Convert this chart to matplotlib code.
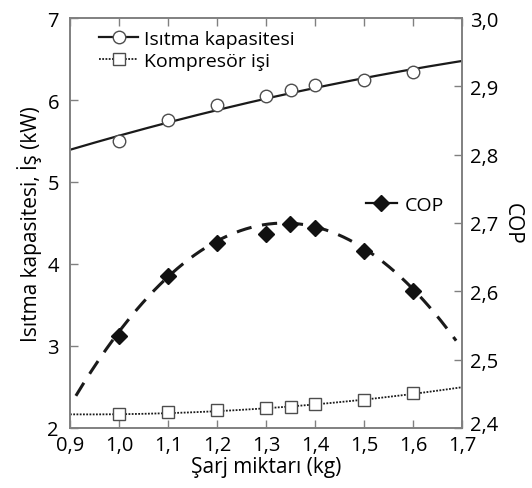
import matplotlib
matplotlib.use("Agg")
import matplotlib.pyplot as plt
import matplotlib.transforms as mtransforms
import numpy as np
from matplotlib.ticker import FuncFormatter
from matplotlib.lines import Line2D

plt.rcParams['font.family'] = ['Open Sans', 'DejaVu Sans']

# Data
charge = [1.0, 1.1, 1.2, 1.3, 1.35, 1.4, 1.5, 1.6]
heating = [5.50, 5.76, 5.94, 6.045, 6.12, 6.18, 6.24, 6.34]
compressor = [2.17, 2.20, 2.22, 2.245, 2.256, 2.29, 2.345, 2.427]
cop = [2.535, 2.623, 2.671, 2.684, 2.698, 2.693, 2.659, 2.601]

# Trend-line points
heat_tr_x = [0.9, 1.0, 1.1, 1.2, 1.3, 1.5, 1.6, 1.7]
heat_tr_y = [5.39, 5.565, 5.73, 5.88, 6.01, 6.27, 6.37, 6.48]
comp_tr_x = [0.9, 1.2, 1.5, 1.7]
comp_tr_y = [2.165, 2.21, 2.34, 2.50]
cop_tr_x = [0.912, 1.0, 1.337, 1.6, 1.686]
cop_tr_y = [2.447, 2.541, 2.70, 2.603, 2.53]

x_ticks = [0.9, 1.0, 1.1, 1.2, 1.3, 1.4, 1.5, 1.6, 1.7]
left_ticks = [2, 3, 4, 5, 6, 7]
right_ticks = [2.4, 2.5, 2.6, 2.7, 2.8, 2.9, 3.0]

GRAY = '#808080'
FS_TICK = 14.5
FS_LAB = 15
FS_LEG = 14

fig = plt.figure(figsize=(5.32, 4.89), dpi=100)
ax = fig.add_axes([70/532, 1-429/489, (462-70)/532, (429-19)/489])
ax2 = ax.twinx()

def fitline(xs, ys, x0, x1, deg=2):
    p = np.polyfit(xs, ys, deg)
    xx = np.linspace(x0, x1, 200)
    return xx, np.polyval(p, xx)

hx, hy = fitline(heat_tr_x, heat_tr_y, 0.9, 1.7)
ax.plot(hx, hy, color='#1a1a1a', lw=1.6, zorder=2)
ax.plot(charge, heating, ls='none', marker='o', ms=9, mfc='white', mec='#4d4d4d', mew=1.0, zorder=3)

cx, cy = fitline(comp_tr_x, comp_tr_y, 0.9, 1.7)
ax.plot(cx, cy, color='#1a1a1a', lw=1.3, ls=(0, (1.0, 0.8)), zorder=2)
ax.plot(charge, compressor, ls='none', marker='s', ms=8.5, mfc='white', mec='#4d4d4d', mew=1.0, zorder=3)

px, py = fitline(cop_tr_x, cop_tr_y, 0.912, 1.688)
ax2.plot(px, py, color='#1a1a1a', lw=2.2, ls=(0, (5, 3.5)), zorder=2)
ax2.plot(charge, cop, ls='none', marker='D', ms=8, mfc='#111111', mec='#111111', zorder=3)

ax.set_xlim(0.9, 1.7)
ax.set_ylim(2, 7)
ax2.set_ylim(2.4, 3.0)
ax.set_xticks(x_ticks)
ax.set_yticks(left_ticks)
ax2.set_yticks(right_ticks)

comma = FuncFormatter(lambda v, p: f"{v:.1f}".replace('.', ','))
ax.xaxis.set_major_formatter(comma)
ax2.yaxis.set_major_formatter(comma)
ax.yaxis.set_major_formatter(FuncFormatter(lambda v, p: f"{v:.0f}"))

for a in (ax, ax2):
    for s in a.spines.values():
        s.set_color(GRAY)
        s.set_linewidth(1.2)
ax.tick_params(axis='x', direction='in', top=True, length=6, width=1, color=GRAY,
               labelsize=FS_TICK, pad=5)
ax.tick_params(axis='y', direction='in', length=6, width=1, color=GRAY,
               labelsize=FS_TICK, pad=8)
ax2.tick_params(axis='y', direction='in', length=6, width=1, color=GRAY,
                labelsize=FS_TICK, pad=6)

# nudge the lowest right-axis label up slightly, as in the reference
lbl = ax2.get_yticklabels()[0]
lbl.set_transform(lbl.get_transform() + mtransforms.ScaledTranslation(0, 4/72, fig.dpi_scale_trans))

ax.set_xlabel('Şarj miktarı (kg)', fontsize=FS_LAB, labelpad=1)
ax.set_ylabel('Isıtma kapasitesi, İş (kW)', fontsize=FS_LAB, labelpad=4)
ax2.set_ylabel('COP', fontsize=FS_LAB, rotation=270, labelpad=17)

h1 = Line2D([], [], color='#1a1a1a', lw=1.6, marker='o', ms=9, mfc='white', mec='#4d4d4d')
h2 = Line2D([], [], color='#1a1a1a', lw=1.3, ls=(0, (1.0, 0.8)), marker='s', ms=8.5, mfc='white', mec='#4d4d4d')
leg1 = ax2.legend([h1, h2], ['Isıtma kapasitesi', 'Kompresör işi'], loc='upper left',
                  bbox_to_anchor=(0.055, 0.99), frameon=False, fontsize=FS_LEG,
                  handlelength=2.0, handletextpad=0.3, borderaxespad=0, labelspacing=0.2)
ax2.add_artist(leg1)
h3 = Line2D([], [], color='#111111', lw=1.6, marker='D', ms=8, mfc='#111111', mec='#111111')
ax2.legend([h3], ['COP'], loc='center left', bbox_to_anchor=(0.735, 0.545), frameon=False,
           fontsize=FS_LEG, handlelength=1.6, handletextpad=0.4, borderaxespad=0)

fig.savefig('out.png', dpi=100)
